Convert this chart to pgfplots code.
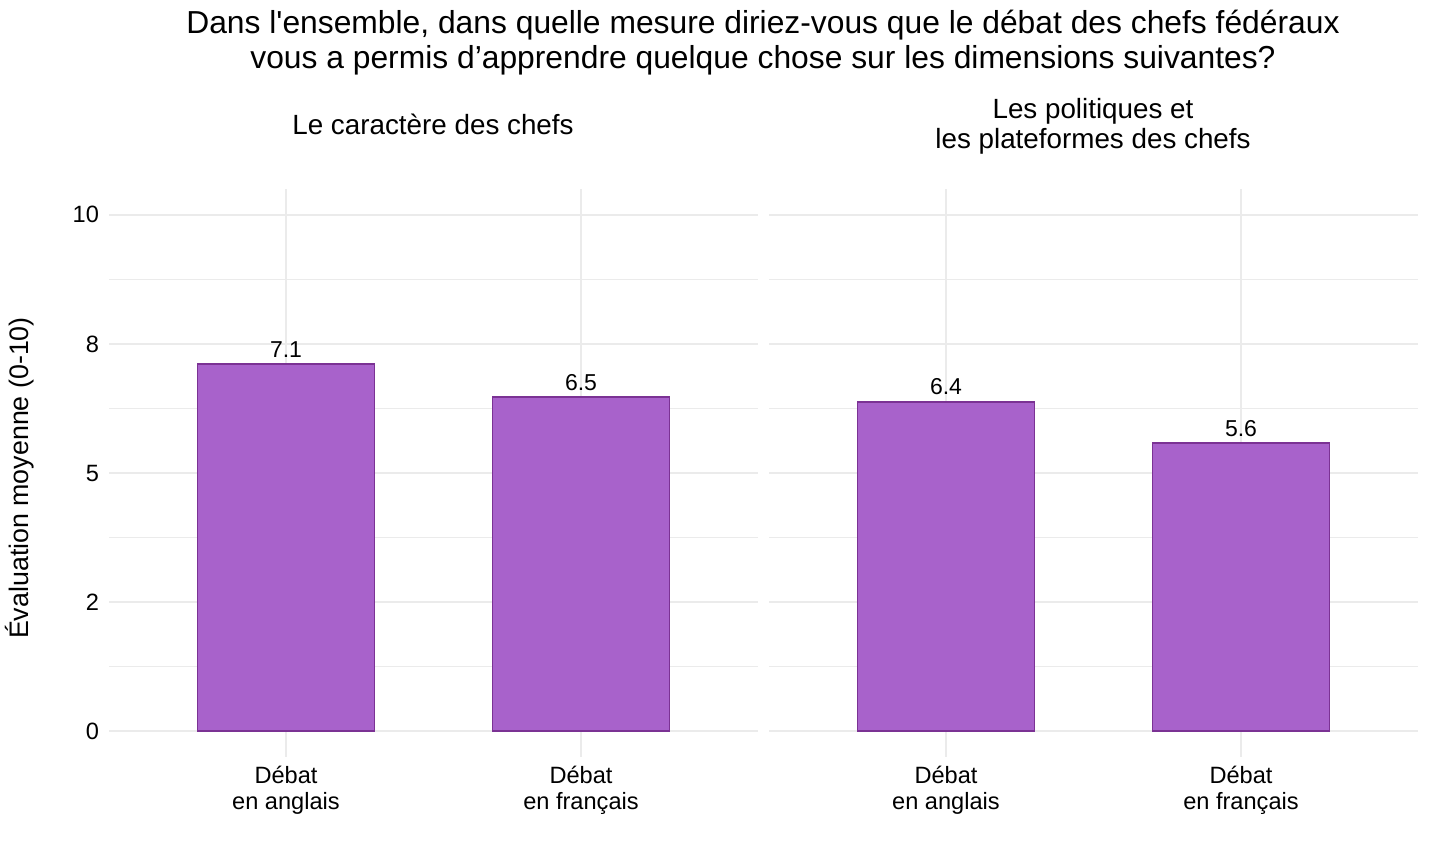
\documentclass[border=0pt]{standalone}
\usepackage{pgfplots}
\pgfplotsset{compat=1.18}
\usepackage{fontspec}
\setmainfont{Liberation Sans}

\definecolor{barfill}{HTML}{A862CB}
\definecolor{baredge}{HTML}{7B3294}
\definecolor{gridc}{HTML}{EBEBEB}

% 1 px of the reference = 0.5pt
\pgfplotsset{
  panel/.style={
    scale only axis, width=324.5pt, height=284pt,
    anchor=south west,
    xmin=0.4, xmax=2.6, ymin=-0.5, ymax=10.5,
    axis line style={draw=none}, tick style={draw=none},
    xtick={1,2},
    xticklabels={{Débat\\en anglais},{Débat\\en français}},
    xticklabel style={align=center, font=\fontsize{11.8pt}{13pt}\selectfont, yshift=-1pt},
    ytick={0,2.5,5,7.5,10},
    minor ytick={1.25,3.75,6.25,8.75},
    grid=both,
    major grid style={gridc, line width=1pt},
    minor grid style={gridc, line width=0.5pt},
    yticklabel style={font=\fontsize{11.8pt}{13pt}\selectfont, xshift=-1.5pt},
  },
  bars/.style={
    ybar, bar width=0.6, fill=barfill, draw=baredge, line width=0.8pt,
    nodes near coords, point meta=explicit symbolic,
    nodes near coords style={font=\fontsize{11.5pt}{13pt}\selectfont, text=black,
      anchor=base, yshift=3.5pt},
  },
}

\begin{document}
\begin{tikzpicture}
\path[use as bounding box] (0,0) rectangle (714.5pt,428.5pt);

% titles
\node[anchor=base, font=\fontsize{15.9pt}{18pt}\selectfont] at (381.5pt,411.5pt)
  {Dans l\textquotesingle ensemble, dans quelle mesure diriez-vous que le débat des chefs fédéraux};
\node[anchor=base, font=\fontsize{15.9pt}{18pt}\selectfont] at (381.5pt,394pt)
  {vous a permis d’apprendre quelque chose sur les dimensions suivantes?};
\node[anchor=base, font=\fontsize{13.9pt}{16pt}\selectfont] at (216.5pt,361pt)
  {Le caractère des chefs};
\node[anchor=base, font=\fontsize{13.9pt}{16pt}\selectfont] at (546.5pt,369pt)
  {Les politiques et};
\node[anchor=base, font=\fontsize{13.9pt}{16pt}\selectfont] at (546.5pt,354pt)
  {les plateformes des chefs};
\node[rotate=90, font=\fontsize{13.4pt}{15pt}\selectfont] at (10pt,189.5pt)
  {Évaluation moyenne (0-10)};

\begin{axis}[panel, at={(54.5pt,50pt)},
  yticklabels={0,2,5,8,10}]
\addplot[bars] coordinates {(1,7.11) [7.1] (2,6.47) [6.5]};
\end{axis}

\begin{axis}[panel, at={(384.5pt,50pt)},
  yticklabels={}]
\addplot[bars] coordinates {(1,6.38) [6.4] (2,5.58) [5.6]};
\end{axis}
\end{tikzpicture}
\end{document}
